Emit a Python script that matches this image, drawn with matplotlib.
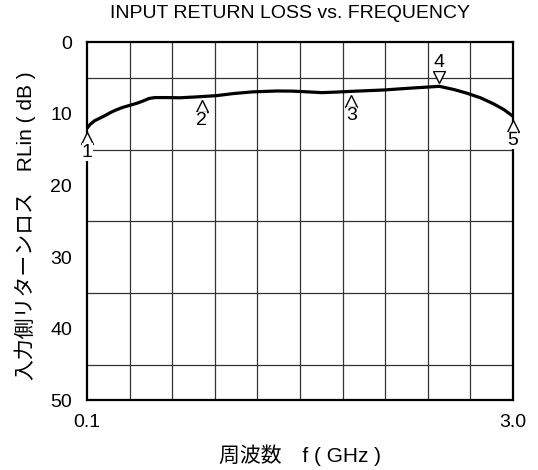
import numpy as np
import matplotlib
matplotlib.use("Agg")
import matplotlib.pyplot as plt
from matplotlib.transforms import offset_copy

plt.rcParams['font.family'] = ['Liberation Sans', 'Noto Sans CJK JP', 'DejaVu Sans']

# Data
freq_ghz = [0.10, 0.12, 0.15, 0.18, 0.21, 0.25, 0.29, 0.34, 0.39, 0.44, 0.48,
            0.52, 0.56, 0.65, 0.73, 0.85, 0.98, 1.10, 1.23, 1.39, 1.50, 1.60,
            1.70, 1.80, 1.90, 2.12, 2.32, 2.50, 2.60, 2.69, 2.78, 2.87, 2.94,
            3.00]
rl_db = [11.95, 11.45, 10.95, 10.65, 10.35, 9.9, 9.5, 9.1, 8.8, 8.5, 8.2,
         7.85, 7.72, 7.72, 7.75, 7.62, 7.45, 7.15, 6.92, 6.8, 6.82, 6.92,
         7.03, 6.95, 6.85, 6.66, 6.38, 6.15, 6.6, 7.12, 7.75, 8.6, 9.4,
         10.3]

marker_labels = ['1', '2', '3', '4', '5']
marker_freq = [0.1, 0.88, 1.9, 2.5, 3.0]
marker_db = [11.95, 7.55, 6.85, 6.15, 10.3]
marker_above = [False, False, False, True, False]

x_ticks = [0.1, 3.0]
x_tick_labels = ['0.1', '3.0']
y_ticks = [0, 10, 20, 30, 40, 50]

FS = 14

fig = plt.figure(figsize=(5.38, 4.70), dpi=100)
ax = fig.add_axes([87.3/538, 1 - 400.3/470, 425.4/538, 358/470])

ax.plot(freq_ghz, rl_db, color='black', lw=2.3, zorder=3,
        solid_capstyle='round', solid_joinstyle='round')

ax.set_xlim(0.1, 3.0)
ax.set_ylim(50, 0)
ax.set_xticks(np.linspace(0.1, 3.0, 11), minor=True)
ax.set_yticks(np.arange(0, 51, 5), minor=True)
ax.set_xticks(x_ticks)
ax.set_xticklabels(x_tick_labels)
ax.set_yticks(y_ticks)
ax.grid(which='minor', color='#333333', lw=0.9)
ax.tick_params(which='both', length=0)
ax.tick_params(axis='x', pad=10, labelsize=FS)
ax.tick_params(axis='y', pad=11, labelsize=FS)
for s in ax.spines.values():
    s.set_linewidth(1.6)
    s.set_zorder(4)

for lab, f, d, up in zip(marker_labels, marker_freq, marker_db, marker_above):
    sgn = 1 if up else -1
    tr = offset_copy(ax.transData, fig=fig, x=0, y=sgn * 7.0, units='points')
    ax.plot([f], [d], marker='v' if up else '^', ms=8, mfc='white', mec='black',
            mew=1.0, transform=tr, zorder=6, clip_on=False, ls='none')
    tr2 = offset_copy(ax.transData, fig=fig, x=0, y=sgn * 17.5, units='points')
    ax.text(f, d, lab, transform=tr2, ha='center', va='center', fontsize=FS,
            zorder=7, bbox=dict(facecolor='white', edgecolor='none', pad=0.2),
            clip_on=False)

fig.text(290/538, 1 - 13.5/470, 'INPUT RETURN LOSS vs. FREQUENCY',
         ha='center', va='center', fontsize=FS)
fig.text(300/538, 1 - 455/470, '周波数　f ( GHz )', ha='center', va='center',
         fontsize=15)
fig.text(25/538, 1 - 226/470, '入力側リターンロス　RLin ( dB )', ha='center',
         va='center', rotation=90, fontsize=15)

fig.savefig('out.png', dpi=100)
